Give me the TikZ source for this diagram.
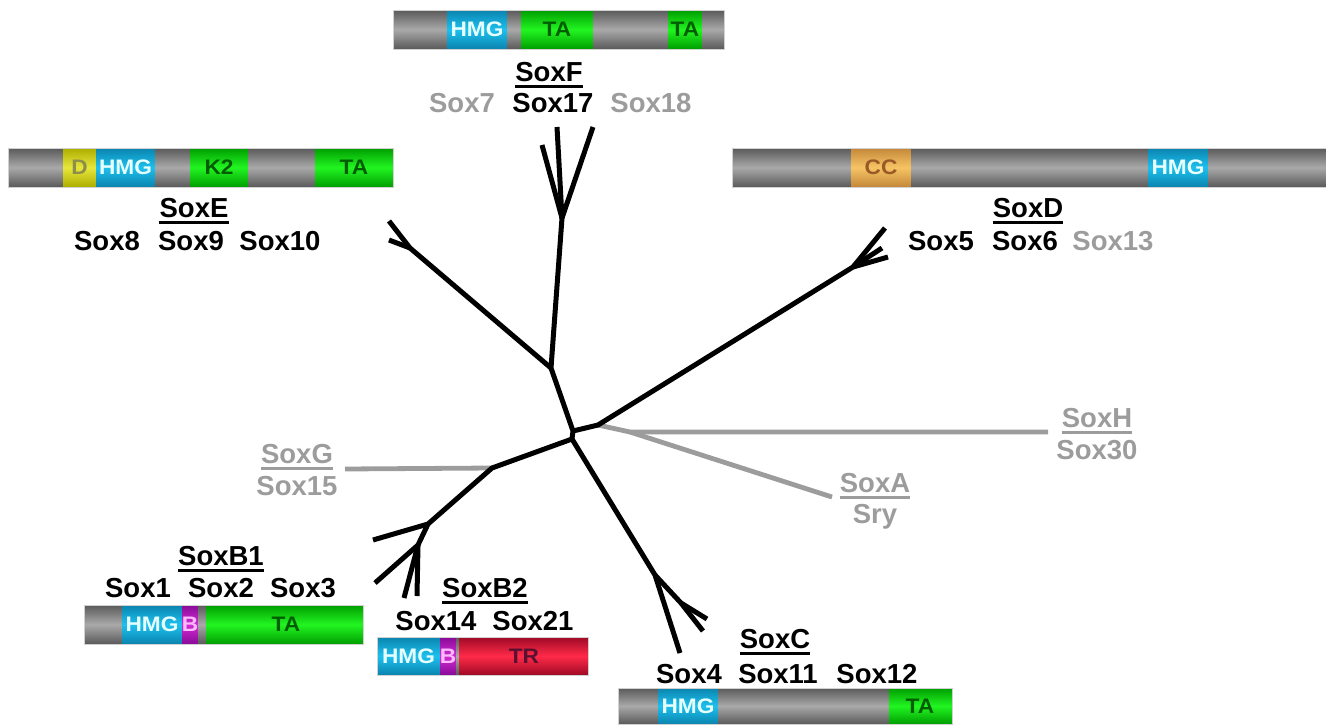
\documentclass[tikz,border=0pt]{standalone}
\usepackage{fontspec}
\setmainfont{Liberation Sans}
\usepackage{graphicx}

% segment shades (dark edge / light centre)
\definecolor{gD}{HTML}{5A5A5A}\definecolor{gL}{HTML}{A9A9A9}
\definecolor{bD}{HTML}{0A84AE}\definecolor{bL}{HTML}{1EC0EE}
\definecolor{grD}{HTML}{009E00}\definecolor{grL}{HTML}{22F522}
\definecolor{yD}{HTML}{ADAD00}\definecolor{yL}{HTML}{E8E83C}
\definecolor{oD}{HTML}{C4873A}\definecolor{oL}{HTML}{F6C464}
\definecolor{mD}{HTML}{880A98}\definecolor{mL}{HTML}{D22CD2}
\definecolor{rD}{HTML}{9E0A26}\definecolor{rL}{HTML}{FF2A48}
% label colours
\definecolor{hmgT}{HTML}{E6FFFF}
\definecolor{taT}{HTML}{005E00}
\definecolor{dT}{HTML}{8E8E4C}
\definecolor{ccT}{HTML}{9A5A26}
\definecolor{bT}{HTML}{FFBAFF}
\definecolor{trT}{HTML}{5A1030}
\definecolor{greyT}{HTML}{9C9C9C}

\newcommand\segbox[5]{\shade[#5] (#1,#3) rectangle (#2,#4);}
\newcommand\bartxt[1]{\scalebox{1.08}[1]{#1}}

\begin{document}
\begin{tikzpicture}[x=1pt,y=-1pt,
  graysg/.style={top color=gD,bottom color=gD,middle color=gL},
  bluesg/.style={top color=bD,bottom color=bD,middle color=bL},
  greensg/.style={top color=grD,bottom color=grD,middle color=grL},
  yellowsg/.style={top color=yD,bottom color=yD,middle color=yL},
  orangesg/.style={top color=oD,bottom color=oD,middle color=oL},
  magentasg/.style={top color=mD,bottom color=mD,middle color=mL},
  redsg/.style={top color=rD,bottom color=rD,middle color=rL},
  barframe/.style={draw=black!18,line width=0.8pt},
  bartext/.style={inner sep=0pt,font=\fontsize{21}{21}\selectfont\bfseries},
  lab/.style={inner sep=0pt,anchor=base,font=\fontsize{27.5}{30}\selectfont\bfseries},
  glab/.style={lab,text=greyT},
  uline/.style={line width=3pt},
  guline/.style={uline,draw=greyT},
  branch/.style={line width=5pt,line join=round,line cap=butt},
  greyline/.style={line width=4.8pt,draw=greyT,line join=round}]
\useasboundingbox (0,0) rectangle (1326,724);

% ---------- domain bars ----------
% SoxF
\segbox{393}{447}{10}{49}{graysg}
\segbox{447}{507}{10}{49}{bluesg}
\segbox{507}{521}{10}{49}{graysg}
\segbox{521}{593}{10}{49}{greensg}
\segbox{593}{668}{10}{49}{graysg}
\segbox{668}{702}{10}{49}{greensg}
\segbox{702}{724}{10}{49}{graysg}
\draw[barframe] (393,10) rectangle (724,49);
\node[bartext,text=hmgT] (fHMG) at (477,29.5) {\bartxt{HMG}};
\node[bartext,text=taT] (fTA1) at (557,29.5) {\bartxt{TA}};
\node[bartext,text=taT] (fTA2) at (685,29.5) {\bartxt{TA}};

% SoxE
\segbox{8}{63}{148}{187}{graysg}
\segbox{63}{96}{148}{187}{yellowsg}
\segbox{96}{155}{148}{187}{bluesg}
\segbox{155}{190}{148}{187}{graysg}
\segbox{190}{248}{148}{187}{greensg}
\segbox{248}{315}{148}{187}{graysg}
\segbox{315}{393}{148}{187}{greensg}
\draw[barframe] (8,148) rectangle (393,187);
\node[bartext,text=dT] (eD) at (79.5,167.5) {\bartxt{D}};
\node[bartext,text=hmgT] (eHMG) at (125.5,167.5) {\bartxt{HMG}};
\node[bartext,text=taT] (eK2) at (219,167.5) {\bartxt{K2}};
\node[bartext,text=taT] (eTA) at (354,167.5) {\bartxt{TA}};

% SoxD
\segbox{732}{851}{148}{187}{graysg}
\segbox{851}{911}{148}{187}{orangesg}
\segbox{911}{1148}{148}{187}{graysg}
\segbox{1148}{1208}{148}{187}{bluesg}
\segbox{1208}{1326}{148}{187}{graysg}
\draw[barframe] (732,148) rectangle (1326,187);
\node[bartext,text=ccT] (dCC) at (881,167.5) {\bartxt{CC}};
\node[bartext,text=hmgT] (dHMG) at (1178,167.5) {\bartxt{HMG}};

% SoxB1
\segbox{84}{122}{605}{644}{graysg}
\segbox{122}{182}{605}{644}{bluesg}
\segbox{182}{198}{605}{644}{magentasg}
\segbox{198}{206}{605}{644}{graysg}
\segbox{206}{363}{605}{644}{greensg}
\draw[barframe] (84,605) rectangle (363,644);
\node[bartext,text=hmgT] (b1HMG) at (152,624.5) {\bartxt{HMG}};
\node[bartext,text=bT] (b1B) at (190,624.5) {\bartxt{B}};
\node[bartext,text=taT] (b1TA) at (286,624.5) {\bartxt{TA}};

% SoxB2
\segbox{377}{440}{637}{675}{bluesg}
\segbox{440}{456}{637}{675}{magentasg}
\segbox{456}{459}{637}{675}{graysg}
\segbox{459}{588}{637}{675}{redsg}
\draw[barframe] (377,637) rectangle (588,675);
\node[bartext,text=hmgT] (b2HMG) at (408.5,656) {\bartxt{HMG}};
\node[bartext,text=bT] (b2B) at (448,656) {\bartxt{B}};
\node[bartext,text=trT] (b2TR) at (524,656) {\bartxt{TR}};

% SoxC
\segbox{618}{658}{688}{724}{graysg}
\segbox{658}{718}{688}{724}{bluesg}
\segbox{718}{889}{688}{724}{graysg}
\segbox{889}{952}{688}{724}{greensg}
\draw[barframe] (618,688) rectangle (952,724);
\node[bartext,text=hmgT] (cHMG) at (688,706) {\bartxt{HMG}};
\node[bartext,text=taT] (cTA) at (920,706) {\bartxt{TA}};

% ---------- group labels ----------
\node[lab] (tF) at (549,81.5) {SoxF};
\node[glab] (s7) at (462,112) {Sox7};
\node[lab] (s17) at (553,112) {Sox17};
\node[glab] (s18) at (651,112) {Sox18};
\draw[uline] ([yshift=-4.5pt]tF.base west) -- ([yshift=-4.5pt]tF.base east);

\node[lab] (tE) at (194,217.5) {SoxE};
\node[lab] (s8) at (107,250) {Sox8};
\node[lab] (s9) at (191,250) {Sox9};
\node[lab] (s10) at (280,250) {Sox10};
\draw[uline] ([yshift=-4.5pt]tE.base west) -- ([yshift=-4.5pt]tE.base east);

\node[lab] (tD) at (1028,217.5) {SoxD};
\node[lab] (s5) at (941,250) {Sox5};
\node[lab] (s6) at (1025,250) {Sox6};
\node[glab] (s13) at (1113,250) {Sox13};
\draw[uline] ([yshift=-4.5pt]tD.base west) -- ([yshift=-4.5pt]tD.base east);

\node[lab] (tB1) at (221,565.5) {SoxB1};
\node[lab] (s1) at (138,597) {Sox1};
\node[lab] (s2) at (221,597) {Sox2};
\node[lab] (s3) at (303,597) {Sox3};
\draw[uline] ([yshift=-4.5pt]tB1.base west) -- ([yshift=-4.5pt]tB1.base east);

\node[lab] (tB2) at (485,597.5) {SoxB2};
\node[lab] (s14) at (436,630) {Sox14};
\node[lab] (s21) at (533,630) {Sox21};
\draw[uline] ([yshift=-4.5pt]tB2.base west) -- ([yshift=-4.5pt]tB2.base east);

\node[lab] (tC) at (775,648.5) {SoxC};
\node[lab] (s4) at (689,683) {Sox4};
\node[lab] (s11) at (778,683) {Sox11};
\node[lab] (s12) at (877,683) {Sox12};
\draw[uline] ([yshift=-4.5pt]tC.base west) -- ([yshift=-4.5pt]tC.base east);

\node[glab] (tG) at (297,463.5) {SoxG};
\node[glab] (s15) at (297,495) {Sox15};
\draw[guline] ([yshift=-4.5pt]tG.base west) -- ([yshift=-4.5pt]tG.base east);

\node[glab] (tH) at (1097,427.5) {SoxH};
\node[glab] (s30) at (1097,459) {Sox30};
\draw[guline] ([yshift=-4.5pt]tH.base west) -- ([yshift=-4.5pt]tH.base east);

\node[glab] (tA) at (875,492.5) {SoxA};
\node[glab] (sry) at (875,523) {Sry};
\draw[guline] ([yshift=-4.5pt]tA.base west) -- ([yshift=-4.5pt]tA.base east);

% ---------- tree ----------
\coordinate (c1) at (573,431);
\coordinate (c2) at (572,439);
\coordinate (ef) at (551,368);
\coordinate (ej) at (410,248);
\coordinate (e1) at (389,221);
\coordinate (e2) at (389,240);
\coordinate (fj) at (562,218);
\coordinate (f1) at (542,145);
\coordinate (f2) at (557,127);
\coordinate (f3) at (593,127);
\coordinate (d0) at (598,425);
\coordinate (dj) at (853,267);
\coordinate (d1) at (885,228);
\coordinate (d2) at (882,248);
\coordinate (d3) at (888,257);
\coordinate (gj) at (630,432);
\coordinate (hEnd) at (1048,432);
\coordinate (aEnd) at (832,497);
\coordinate (bg) at (492,468);
\coordinate (gEnd) at (345,469);
\coordinate (bj) at (428,524);
\coordinate (b0) at (373,540);
\coordinate (bj2) at (418,545);
\coordinate (b1) at (375,583);
\coordinate (b2) at (404,598);
\coordinate (b3) at (417,596);
\coordinate (cj) at (655,575);
\coordinate (cL) at (680,653);
\coordinate (cj2) at (681,603);
\coordinate (cA) at (707,619);
\coordinate (cB) at (703,631);

% grey branches
\draw[greyline] (d0) -- (gj) -- (hEnd);
\draw[greyline] (gj) -- (aEnd);
\draw[greyline] (bg) -- (gEnd);

% black branches
\draw[branch] (c2) -- (c1) -- (ef) -- (fj) -- (f2);
\draw[branch] (f1) -- (fj) -- (f3);
\draw[branch] (ef) -- (ej) -- (e1);
\draw[branch] (ej) -- (e2);
\draw[branch] (c1) -- (d0) -- (dj) -- (d1);
\draw[branch] (dj) -- (d2);
\draw[branch] (dj) -- (d3);
\draw[branch] (c2) -- (bg) -- (bj) -- (b0);
\draw[branch] (bj) -- (bj2) -- (b1);
\draw[branch] (bj2) -- (b2);
\draw[branch] (bj2) -- (b3);
\draw[branch] (c2) -- (cj) -- (cL);
\draw[branch] (cj) -- (cj2) -- (cA);
\draw[branch] (cj2) -- (cB);
\end{tikzpicture}
\end{document}
